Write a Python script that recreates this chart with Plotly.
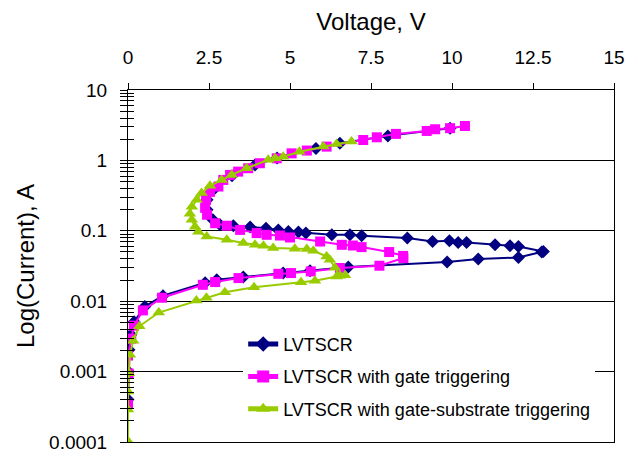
import plotly.graph_objects as go

# ---- data (Voltage in V, Current in A) ----
lvtscr_v = [0.0, 0.01, 0.03, 0.09, 0.19, 0.52, 1.08, 2.38, 2.74, 3.56, 4.79, 5.62, 6.80, 9.85, 10.81, 12.05, 12.77, 12.82,
            12.05, 11.79, 11.33, 10.45, 10.19, 9.92, 9.40, 8.62, 7.21, 6.85, 6.29, 5.49, 5.26, 4.95, 4.64, 4.26, 3.77,
            3.25, 2.84, 2.62, 2.44, 2.44, 2.69, 3.21, 3.92, 4.60, 5.80, 6.54, 8.02, 9.94]
lvtscr_i = [4.0e-4, 1.0e-3, 2.05e-3, 3.35e-3, 5.1e-3, 8.4e-3, 0.012, 0.0183, 0.0202, 0.022, 0.0251, 0.0271, 0.0306,
            0.036, 0.0397, 0.0418, 0.0499, 0.0508,
            0.0598, 0.0612, 0.0633, 0.0682, 0.0682, 0.0721, 0.0705, 0.0787, 0.0849, 0.0877, 0.0877, 0.0927, 0.0959,
            0.0977, 0.103, 0.109, 0.113, 0.118, 0.122, 0.143, 0.199, 0.275, 0.407, 0.603, 0.863, 1.08, 1.48, 1.75,
            2.23, 2.87]

gate_v = [0.0, 0.02, 0.0, 0.10, 0.18, 0.46, 1.05, 2.31, 2.69, 3.41, 4.64, 5.03, 5.64, 6.54, 7.76, 8.50, 8.49,
          8.06, 7.21, 6.94, 6.60, 5.93, 5.00, 4.69, 4.28, 3.97, 3.46, 3.05, 2.69, 2.44, 2.38, 2.41, 2.53, 2.79,
          2.94, 3.15, 3.40, 3.71, 4.07, 4.59, 5.05, 5.52, 6.13, 7.26, 7.68, 8.27, 9.22, 9.48, 9.94, 10.40]
gate_i = [3.5e-4, 9.4e-4, 1.69e-3, 2.94e-3, 4.49e-3, 7.4e-3, 0.0112, 0.0171, 0.0187, 0.0213, 0.0245, 0.0251,
          0.0265, 0.0296, 0.0319, 0.041, 0.044,
          0.0499, 0.0587, 0.0618, 0.0632, 0.0705, 0.0804, 0.0857, 0.0877, 0.0927, 0.103, 0.118, 0.128, 0.169,
          0.212, 0.275, 0.357, 0.425, 0.528, 0.622, 0.693, 0.774, 0.912, 1.07, 1.26, 1.38, 1.57, 1.95, 2.13,
          2.38, 2.62, 2.77, 2.87, 3.08]

gsub_v = [0.0, 0.0, 0.0, 0.03, 0.06, 0.16, 0.35, 0.95, 2.11, 2.42, 2.99, 3.89, 5.34, 5.77, 6.44, 6.70,
          6.54, 6.39, 6.23, 6.13, 5.72, 5.52, 5.15, 4.48, 4.18, 3.92, 3.56, 3.05, 2.43, 2.17, 2.07, 1.97, 1.91,
          1.97, 2.12, 2.27, 2.53, 2.89, 3.20, 3.66, 4.33, 4.54, 4.79, 5.29, 6.03, 6.44, 6.90]
gsub_i = [1.03e-4, 2.9e-4, 5.2e-4, 9.5e-4, 1.74e-3, 2.75e-3, 4.4e-3, 6.9e-3, 0.0102, 0.0112, 0.0134, 0.0158,
          0.0186, 0.0195, 0.0225, 0.0234,
          0.023, 0.0299, 0.0388, 0.0432, 0.052, 0.055, 0.0556, 0.0569, 0.0612, 0.0633, 0.0669, 0.0745, 0.083,
          0.0968, 0.114, 0.143, 0.174, 0.219, 0.275, 0.343, 0.435, 0.528, 0.622, 0.774, 1.02, 1.07, 1.13, 1.33,
          1.57, 1.71, 1.85]

x_ticks = [0, 2.5, 5, 7.5, 10, 12.5, 15]
x_ticktext = ["0", "2.5", "5", "7.5", "10", "12.5", "15"]
y_ticks = [10, 1, 0.1, 0.01, 0.001, 0.0001]
y_ticktext = ["10", "1", "0.1", "0.01", "0.001", "0.0001"]
y_minor = [m * 10.0 ** k for k in range(-4, 1) for m in range(2, 10)]

FONT = "Liberation Sans, Arial, Helvetica, sans-serif"

fig = go.Figure()
fig.add_trace(go.Scatter(x=lvtscr_v, y=lvtscr_i, mode="lines+markers", name="LVTSCR", legendgroup="g1",
                         line=dict(color="#000080", width=2),
                         marker=dict(symbol="diamond", size=10, color="#000080")))
fig.add_trace(go.Scatter(x=gate_v, y=gate_i, mode="lines+markers", name="LVTSCR with gate triggering",
                         legendgroup="g2",
                         line=dict(color="#FF00FF", width=2),
                         marker=dict(symbol="square", size=10, color="#FF00FF")))
fig.add_trace(go.Scatter(x=gsub_v, y=gsub_i, mode="lines+markers", name="LVTSCR with gate-substrate triggering",
                         legendgroup="g3",
                         line=dict(color="#99CC00", width=2),
                         marker=dict(symbol="triangle-up", size=11, color="#99CC00")))
# dummy trace so the overlay axis (inside ticks) is drawn
fig.add_trace(go.Scatter(x=[None], y=[None], yaxis="y2", showlegend=False, hoverinfo="skip"))

yax_common = dict(type="log", range=[-4, 1], tickmode="array", tickvals=y_ticks,
                  ticklen=7, tickwidth=1, tickcolor="black", automargin=False)

fig.update_layout(
    width=638, height=457,
    margin=dict(l=128, r=24, t=90, b=15),
    paper_bgcolor="white", plot_bgcolor="white",
    font=dict(family=FONT, size=18, color="black"),
    showlegend=True,
    legend=dict(x=0.237, y=0.33, xanchor="left", yanchor="top",
                bgcolor="white", borderwidth=0, font=dict(size=18),
                tracegroupgap=6, itemsizing="constant"),
    xaxis=dict(side="top", range=[0, 15], tickmode="array", tickvals=x_ticks, ticktext=x_ticktext,
               ticks="outside", ticklen=6, tickcolor="black", showgrid=False, zeroline=False,
               showline=True, linecolor="black", linewidth=1, mirror=True, automargin=False,
               tickfont=dict(size=19), ticklabelstandoff=11,
               title=dict(text="Voltage, V", font=dict(size=24), standoff=10)),
    yaxis=dict(**yax_common, ticktext=y_ticktext, ticks="outside",
               showgrid=True, gridcolor="black", gridwidth=1, zeroline=False,
               showline=True, linecolor="black", linewidth=1, mirror=True,
               tickfont=dict(size=19), ticklabelstandoff=9,
               minor=dict(tickmode="array", tickvals=y_minor, ticks="outside", ticklen=7,
                          tickcolor="black", showgrid=False),
               title=dict(text="Log(Current), A", font=dict(size=24), standoff=7)),
    yaxis2=dict(**yax_common, overlaying="y", side="left", anchor="x", ticks="inside",
                showticklabels=False, showgrid=False, zeroline=False, showline=False,
                minor=dict(tickmode="array", tickvals=y_minor, ticks="inside", ticklen=6,
                           tickcolor="black", showgrid=False)),
)

fig.write_html("out.html")
